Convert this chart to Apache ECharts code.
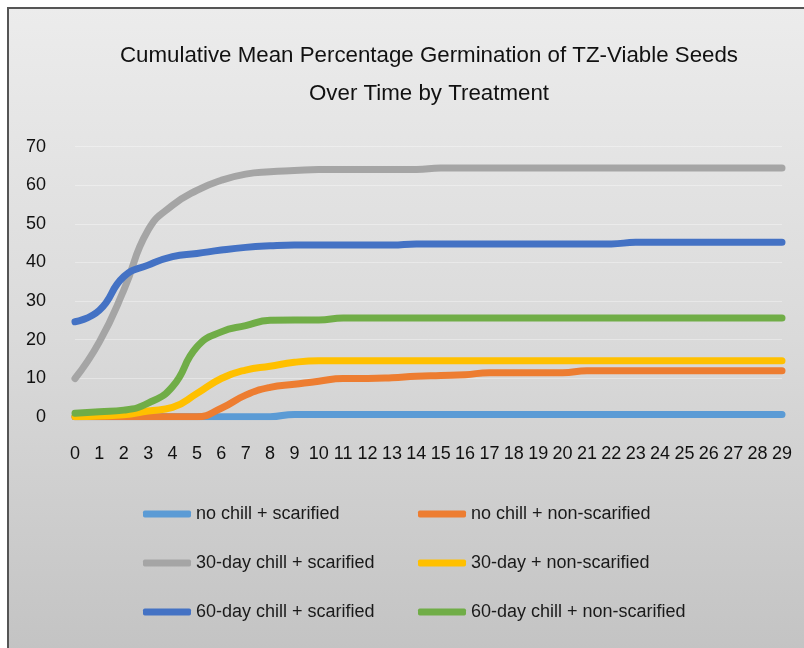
<!DOCTYPE html>
<html>
<head>
<meta charset="utf-8">
<title>Cumulative Mean Percentage Germination</title>
<script src="https://cdn.jsdelivr.net/npm/echarts@6/dist/echarts.min.js"></script>
<style>
  html, body { margin: 0; padding: 0; background: #fff; }
  #chart { width: 804px; height: 648px; }
</style>
</head>
<body>
<div id="chart"></div>
<script>
// 天数 (x 轴)
var days = ["0", "1", "2", "3", "4", "5", "6", "7", "8", "9", "10", "11", "12", "13", "14",
  "15", "16", "17", "18", "19", "20", "21", "22", "23", "24", "25", "26", "27", "28", "29"];

var seriesNames = [
  "no chill + scarified",
  "no chill + non-scarified",
  "30-day chill + scarified",
  "30-day + non-scarified",
  "60-day chill + scarified",
  "60-day chill + non-scarified"
];

var noChillScarified = [0, 0, 0, 0, 0, 0, 0, 0, 0, 0.6, 0.6, 0.6, 0.6, 0.6, 0.6,
  0.6, 0.6, 0.6, 0.6, 0.6, 0.6, 0.6, 0.6, 0.6, 0.6, 0.6, 0.6, 0.6, 0.6, 0.6];
var noChillNonScarified = [0, 0, 0, 0, 0, 0, 2.2, 5.6, 7.6, 8.4, 9.2, 9.9, 9.9, 10.1, 10.5,
  10.7, 10.9, 11.4, 11.4, 11.4, 11.4, 11.9, 11.9, 11.9, 11.9, 11.9, 11.9, 11.9, 11.9, 11.9];
var chill30Scarified = [9.9, 19.4, 32.8, 48.4, 54.8, 58.7, 61.3, 62.9, 63.5, 63.8, 64.1, 64.1, 64.1, 64.1, 64.1,
  64.5, 64.5, 64.5, 64.5, 64.5, 64.5, 64.5, 64.5, 64.5, 64.5, 64.5, 64.5, 64.5, 64.5, 64.5];
var chill30NonScarified = [0, 0.2, 0.5, 1.5, 2.4, 6, 9.9, 12.1, 13.1, 14.1, 14.5, 14.5, 14.5, 14.5, 14.5,
  14.5, 14.5, 14.5, 14.5, 14.5, 14.5, 14.5, 14.5, 14.5, 14.5, 14.5, 14.5, 14.5, 14.5, 14.5];
var chill60Scarified = [24.6, 27.6, 36.3, 39.3, 41.5, 42.3, 43.2, 43.9, 44.3, 44.5, 44.5, 44.5, 44.5, 44.5, 44.8,
  44.8, 44.8, 44.8, 44.8, 44.8, 44.8, 44.8, 44.8, 45.2, 45.2, 45.2, 45.2, 45.2, 45.2, 45.2];
var chill60NonScarified = [0.9, 1.3, 1.7, 3.5, 7.8, 18.1, 22, 23.6, 25, 25.1, 25.1, 25.6, 25.6, 25.6, 25.6,
  25.6, 25.6, 25.6, 25.6, 25.6, 25.6, 25.6, 25.6, 25.6, 25.6, 25.6, 25.6, 25.6, 25.6, 25.6];

var seriesData = [noChillScarified, noChillNonScarified, chill30Scarified,
  chill30NonScarified, chill60Scarified, chill60NonScarified];
var seriesColors = ["#5B9BD5", "#ED7D31", "#A5A5A5", "#FFC000", "#4472C4", "#70AD47"];

var FONT = "'Liberation Sans', Arial, sans-serif";

var chart = echarts.init(document.getElementById("chart"));

var series = seriesNames.map(function (name, i) {
  return {
    name: name,
    type: "line",
    data: seriesData[i],
    smooth: true,
    symbol: "none",
    color: seriesColors[i],
    lineStyle: { width: 7, cap: "round", join: "round" }
  };
});

var legendBase = {
  orient: "vertical",
  top: 505,
  itemWidth: 48,
  itemHeight: 7,
  itemGap: 31,
  icon: "roundRect",
  padding: 0,
  textStyle: { fontFamily: FONT, fontSize: 18, color: "#1a1a1a" }
};

var option = {
  backgroundColor: "#ffffff",
  animation: false,
  graphic: [
    {
      // 外框 + 渐变底色
      type: "rect",
      z: -10,
      shape: { x: 8, y: 8, width: 820, height: 660 },
      style: {
        fill: new echarts.graphic.LinearGradient(0, 0, 0, 1, [
          { offset: 0, color: "#ececec" },
          { offset: 0.5, color: "#dadada" },
          { offset: 1, color: "#c2c2c2" }
        ]),
        stroke: "#555555",
        lineWidth: 2
      }
    }
  ],
  title: {
    text: "Cumulative Mean Percentage Germination of TZ-Viable Seeds\nOver Time by Treatment",
    left: 424,
    top: 32,
    textAlign: "center",
    textStyle: {
      fontFamily: FONT,
      fontSize: 22.3,
      fontWeight: "normal",
      color: "#111111",
      lineHeight: 38
    }
  },
  legend: [
    Object.assign({}, legendBase, {
      left: 143,
      data: [seriesNames[0], seriesNames[2], seriesNames[4]]
    }),
    Object.assign({}, legendBase, {
      left: 418,
      data: [seriesNames[1], seriesNames[3], seriesNames[5]]
    })
  ],
  grid: { left: 75, right: 22, top: 146.7, bottom: 231.3 },
  xAxis: {
    type: "category",
    data: days,
    boundaryGap: false,
    axisLine: { show: false },
    axisTick: { show: false },
    axisLabel: {
      interval: 0,
      margin: 28,
      fontFamily: FONT,
      fontSize: 18,
      color: "#111111"
    }
  },
  yAxis: {
    type: "value",
    min: 0,
    max: 70,
    interval: 10,
    axisLine: { show: false },
    axisTick: { show: false },
    axisLabel: {
      margin: 29,
      fontFamily: FONT,
      fontSize: 18,
      color: "#111111"
    },
    splitLine: { lineStyle: { color: "rgba(255,255,255,0.35)", width: 1 } }
  },
  series: series
};

chart.setOption(option);
</script>
</body>
</html>
